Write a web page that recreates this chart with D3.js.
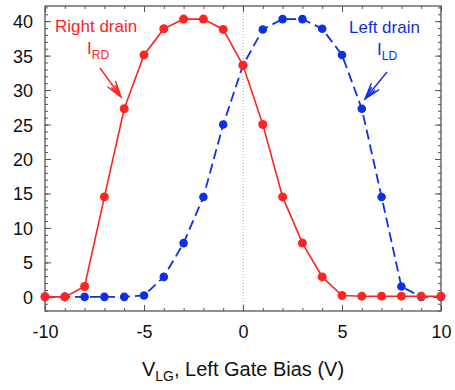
<!DOCTYPE html>
<html><head><meta charset="utf-8">
<script src="https://cdn.jsdelivr.net/npm/d3@7"></script>
<style>body{margin:0;background:#fff}svg{display:block}text{font-family:"Liberation Sans",Arial,sans-serif}</style>
</head><body><svg id="c" width="455" height="390"></svg>
<script>
const vlg = [-10,-9,-8,-7,-6,-5,-4,-3,-2,-1,0,1,2,3,4,5,6,7,8,9,10];
const rightDrain = [0,0,1.5,14.5,27.3,35.1,38.9,40.3,40.3,38.8,33.6,25,14.5,7.8,2.9,0.2,0.1,0.1,0.1,0.1,0.1];
const leftDrain  = [0,0,0,0,0,0.2,2.9,7.8,14.5,25,33.6,38.8,40.3,40.3,38.9,35.1,27.3,14.5,1.5,0,0];
const xTicks = [-10,-5,0,5,10];
const yTicks = [0,5,10,15,20,25,30,35,40];
const RED = "#ff2323", BLUE = "#0f2fe6";

const svg = d3.select("#c");
const x = d3.scaleLinear().domain([-10,10]).range([45,441]);
const y = d3.scaleLinear().domain([-2.05,42.2]).range([311,6]);
const frame = "#555";
const fmt = v => String(v); // plain hyphen minus

// zero dotted line
svg.append("line").attr("x1",x(0)).attr("x2",x(0)).attr("y1",y.range()[0]).attr("y2",y.range()[1])
  .attr("stroke","#aaa").attr("stroke-width",1).attr("stroke-dasharray","1,2");

// axes with inward ticks
const minorX = d3.range(-10,11,1), minorY = d3.range(-2,43,1);
function ax(gen, tr, major, minor, labels){
  const gMin = svg.append("g").attr("transform",tr).call(gen.tickValues(minor).tickSize(-3).tickFormat(""));
  gMin.select(".domain").remove();
  const gMaj = svg.append("g").attr("transform",tr).call(gen.tickValues(major).tickSize(-6).tickFormat(labels? fmt:""));
  [gMin,gMaj].forEach(g=>g.selectAll("line").attr("stroke",frame));
  gMaj.select(".domain").remove();
  return gMaj;
}
const gb = ax(d3.axisBottom(x), `translate(0,${y.range()[0]})`, xTicks, minorX, true);
gb.selectAll("text").attr("font-size",18).attr("fill","#111").attr("y",14).attr("dy","0.71em");
ax(d3.axisTop(x), `translate(0,${y.range()[1]})`, xTicks, minorX, false);
const gl = ax(d3.axisLeft(y), `translate(${x.range()[0]},0)`, yTicks, minorY, true);
gl.selectAll("text").attr("font-size",18).attr("fill","#111").attr("x",-12).attr("dy","0.36em");
ax(d3.axisRight(y), `translate(${x.range()[1]},0)`, yTicks, minorY, false);
svg.selectAll("g").attr("font-family",null);

svg.append("rect").attr("x",x.range()[0]).attr("y",y.range()[1])
  .attr("width",x.range()[1]-x.range()[0]).attr("height",y.range()[0]-y.range()[1])
  .attr("fill","none").attr("stroke",frame).attr("stroke-width",1.3);

const line = d3.line().x((d,i)=>x(vlg[i])).y(d=>y(d));
svg.append("path").datum(leftDrain).attr("d",line).attr("fill","none").attr("stroke",BLUE)
  .attr("stroke-width",1.8).attr("stroke-dasharray","10,5");
svg.append("g").selectAll("circle").data(leftDrain).join("circle")
  .attr("cx",(d,i)=>x(vlg[i])).attr("cy",d=>y(d)).attr("r",4.3).attr("fill",BLUE);
svg.append("path").datum(rightDrain).attr("d",line).attr("fill","none").attr("stroke",RED).attr("stroke-width",1.6);
svg.append("g").selectAll("circle").data(rightDrain).join("circle")
  .attr("cx",(d,i)=>x(vlg[i])).attr("cy",d=>y(d)).attr("r",4.5).attr("fill",RED);

// annotations
function label(tx, ty, main, sub, color){
  const t = svg.append("text").attr("x",tx).attr("y",ty).attr("fill",color).attr("font-size",17);
  t.append("tspan").text(main);
  t.append("tspan").attr("font-size",12).attr("dy",5).text(sub);
}
svg.append("text").attr("x",55).attr("y",32).attr("fill",RED).attr("font-size",17).text("Right drain");
label(87,54,"I","RD",RED);
svg.append("text").attr("x",349).attr("y",33).attr("fill",BLUE).attr("font-size",17).text("Left drain");
label(377,55,"I","LD",BLUE);

function arrow(x1,y1,x2,y2,color){
  const a = Math.atan2(y2-y1,x2-x1), L=17, w=0.3;
  const p = (ang,len)=>[x2-len*Math.cos(a+ang), y2-len*Math.sin(a+ang)];
  const g = svg.append("g").attr("stroke",color).attr("stroke-width",1.4).attr("fill","none");
  g.append("line").attr("x1",x1).attr("y1",y1).attr("x2",x2).attr("y2",y2);
  const b1=p(w,L), b2=p(-w,L), c1=p(w*0.55,L*0.8), c2=p(-w*0.55,L*0.8);
  g.append("path").attr("d",`M${b1}L${x2},${y2}L${b2}M${c1}L${x2},${y2}L${c2}`);
}
arrow(100,68,121,97,RED);
arrow(387,72,365,99,BLUE);

// axis title
const tt = svg.append("text").attr("x",243).attr("y",376).attr("text-anchor","middle").attr("font-size",20).attr("fill","#111");
tt.append("tspan").text("V");
tt.append("tspan").attr("font-size",14).attr("dy",5).text("LG");
tt.append("tspan").attr("dy",-5).text(", Left Gate Bias (V)");
</script></body></html>
